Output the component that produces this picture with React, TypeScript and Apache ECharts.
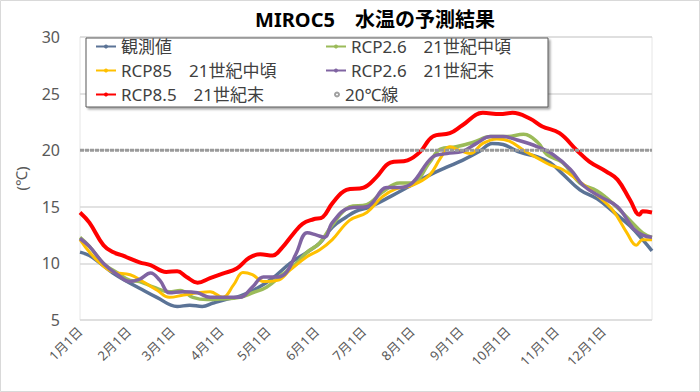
import React, { useEffect, useRef } from "react";
import * as echarts from "echarts";

const titleText = "MIROC5　水温の予測結果";
const yAxisName = "(℃)";
const monthLabels = ["1月1日", "2月1日", "3月1日", "4月1日", "5月1日", "6月1日", "7月1日", "8月1日", "9月1日", "10月1日", "11月1日", "12月1日"];
const monthStartDays = [0, 31, 59, 90, 120, 151, 181, 212, 243, 273, 304, 334];
const seriesNames = ["観測値", "RCP2.6　21世紀中頃", "RCP85　21世紀中頃", "RCP2.6　21世紀末", "RCP8.5　21世紀末", "20℃線"];

// [day of year, water temperature]
const observed: [number, number][] = [
  [0, 11.0], [6, 10.7], [13, 10.0], [21, 9.15], [30, 8.4], [38, 7.8], [49, 7.0], [62, 6.2], [70, 6.3], [78, 6.2],
  [85, 6.5], [94, 6.85], [102, 7.1], [113, 7.8], [123, 8.7], [134, 10.0], [145, 11.0], [153, 11.8], [161, 13.2],
  [170, 14.1], [176, 14.6], [185, 15.0], [198, 15.9], [210, 16.8], [223, 17.8], [234, 18.5], [244, 19.1], [255, 19.9],
  [263, 20.6], [270, 20.5], [281, 19.8], [292, 19.4], [300, 18.9], [308, 17.9], [319, 16.5], [330, 15.7], [340, 14.6],
  [351, 13.3], [359, 12.1], [365, 11.1]
];
const rcp26Mid: [number, number][] = [
  [0, 12.3], [6, 11.5], [15, 10.0], [24, 9.15], [32, 8.5], [38, 8.4], [47, 7.9], [57, 7.5], [64, 7.6], [72, 7.0],
  [81, 6.8], [89, 6.85], [102, 7.0], [110, 7.4], [119, 7.9], [129, 9.0], [138, 10.0], [145, 11.0], [153, 11.8],
  [161, 13.4], [172, 15.0], [183, 15.2], [193, 16.3], [204, 17.1], [212, 17.1], [223, 18.9], [230, 20.1], [240, 20.3],
  [251, 20.7], [262, 21.2], [272, 21.2], [283, 21.4], [292, 20.7], [298, 19.6], [308, 18.9], [319, 17.1], [330, 16.4],
  [340, 15.3], [351, 13.8], [359, 12.7], [365, 12.3]
];
const rcp85Mid: [number, number][] = [
  [0, 12.1], [6, 11.0], [13, 10.0], [21, 9.25], [32, 9.0], [40, 8.4], [49, 7.65], [57, 7.0], [66, 7.2], [75, 7.4],
  [83, 7.5], [91, 7.0], [98, 8.1], [104, 9.2], [110, 9.0], [117, 8.4], [126, 8.5], [134, 9.4], [145, 10.6], [153, 11.2],
  [161, 12.1], [172, 13.8], [183, 14.5], [193, 15.9], [202, 16.6], [212, 16.9], [223, 17.8], [230, 19.3], [236, 20.3],
  [242, 20.0], [249, 19.7], [257, 20.6], [266, 21.0], [274, 20.8], [283, 20.0], [292, 19.3], [300, 18.7], [308, 18.3],
  [319, 17.2], [330, 16.0], [340, 14.7], [349, 12.7], [355, 11.6], [359, 12.1], [365, 12.1]
];
const rcp26End: [number, number][] = [
  [0, 12.2], [6, 11.5], [15, 10.0], [24, 9.0], [32, 8.4], [38, 8.6], [45, 9.15], [51, 8.5], [57, 7.4], [66, 7.5],
  [75, 7.4], [83, 7.0], [94, 7.0], [102, 7.0], [110, 7.9], [117, 8.8], [126, 8.8], [132, 9.25], [138, 10.9], [145, 12.7],
  [151, 12.5], [156, 12.3], [161, 13.6], [172, 14.9], [183, 15.0], [196, 16.7], [204, 16.7], [212, 17.1], [225, 19.4],
  [234, 19.7], [244, 19.9], [253, 20.6], [262, 21.2], [270, 21.2], [279, 20.9], [292, 20.3], [302, 19.6], [313, 18.3],
  [321, 16.9], [332, 15.9], [343, 15.0], [353, 13.1], [359, 12.5], [365, 12.3]
];
const rcp85End: [number, number][] = [
  [0, 14.5], [6, 13.6], [15, 11.6], [21, 11.0], [27, 10.7], [38, 10.1], [45, 9.85], [55, 9.25], [62, 9.3], [68, 8.8],
  [75, 8.3], [83, 8.7], [91, 9.1], [100, 9.55], [108, 10.5], [115, 10.8], [123, 10.7], [129, 11.4], [136, 12.6],
  [142, 13.5], [149, 13.9], [155, 14.1], [161, 15.3], [170, 16.5], [181, 16.7], [189, 17.6], [198, 18.9], [209, 19.1],
  [217, 19.85], [225, 21.2], [236, 21.5], [244, 22.2], [257, 23.3], [268, 23.2], [276, 23.3], [287, 22.8], [295, 22.1],
  [306, 21.5], [317, 20.0], [325, 19.0], [336, 18.1], [343, 17.4], [351, 15.6], [357, 14.3], [359, 14.6], [365, 14.5]
];
const line20: [number, number][] = [[0, 20], [365, 20]];

const colors = ["#5B7396", "#9BBB59", "#FFC000", "#8064A2", "#FF0000", "#A6A6A6"];

const FONT = "'Noto Sans', 'Noto Sans CJK JP', sans-serif";

export default function App() {
  const ref = useRef<HTMLDivElement>(null);
  useEffect(() => {
    if (!ref.current) return;
    const chart = echarts.init(ref.current, null, { renderer: "svg" });
    const mkLine = (i: number, data: [number, number][], width: number) => ({
      name: seriesNames[i],
      type: "line",
      data,
      smooth: 0.4,
      symbol: "circle",
      symbolSize: 4,
      showSymbol: false,
      lineStyle: { color: colors[i], width },
      itemStyle: { color: colors[i] },
      z: 2 + i,
    });
    const legendText = { fontSize: 17, color: "#404040", fontFamily: FONT };
    chart.setOption({
      animation: false,
      backgroundColor: "#ffffff",
      textStyle: { fontFamily: FONT },
      title: {
        text: titleText,
        left: 370,
        textAlign: "center",
        top: 4,
        textStyle: { fontSize: 20, fontWeight: "bold", color: "#000000", fontFamily: FONT },
      },
      grid: { left: 80, right: 48, top: 37, bottom: 72, show: true, borderColor: "#e6e6e6", borderWidth: 1 },
      xAxis: {
        type: "value",
        min: 0,
        max: 365,
        axisLine: { show: false },
        axisTick: { show: false },
        splitLine: { show: false },
        axisLabel: {
          customValues: monthStartDays,
          rotate: 45,
          margin: 9,
          fontSize: 13,
          color: "#595959",
          formatter: (v: number) => {
            const idx = monthStartDays.indexOf(Math.round(v));
            return idx >= 0 ? monthLabels[idx] : "";
          },
        },
      },
      yAxis: {
        type: "value",
        min: 5,
        max: 30,
        interval: 5,
        name: yAxisName,
        nameLocation: "middle",
        nameRotate: 90,
        nameGap: 52,
        nameTextStyle: { fontSize: 15, color: "#595959" },
        axisLine: { show: false },
        axisTick: { show: false },
        axisLabel: { fontSize: 16, color: "#595959", margin: 20 },
        splitLine: { lineStyle: { color: "#d9d9d9", width: 1.5 } },
      },
      legend: [
        {
          orient: "vertical",
          left: 95,
          top: 38,
          padding: 0,
          itemWidth: 20,
          itemHeight: 5,
          itemGap: 7,
          textStyle: legendText,
          data: [seriesNames[0], seriesNames[2], seriesNames[4]],
          z: 6,
        },
        {
          orient: "vertical",
          left: 325,
          top: 38,
          padding: 0,
          itemWidth: 20,
          itemHeight: 5,
          itemGap: 7,
          textStyle: legendText,
          data: [seriesNames[1], seriesNames[3]],
          z: 6,
        },
        {
          orient: "vertical",
          left: 334,
          top: 86,
          padding: 0,
          itemWidth: 6,
          itemHeight: 4,
          itemGap: 7,
          textStyle: legendText,
          data: [{ name: seriesNames[5], icon: "circle" }],
          z: 6,
        },
      ],
      graphic: [
        {
          type: "rect",
          shape: { x: 0.5, y: 0.5, width: 699, height: 391 },
          style: { fill: "none", stroke: "#d9d9d9", lineWidth: 1 },
          silent: true,
          z: 0,
        },
        {
          type: "rect",
          shape: { x: 86, y: 38, width: 462, height: 69 },
          style: {
            fill: "#ffffff",
            stroke: "#595959",
            lineWidth: 1,
            shadowBlur: 2,
            shadowOffsetX: 2,
            shadowOffsetY: 2,
            shadowColor: "rgba(0,0,0,0.35)",
          },
          silent: true,
          z: 5,
        },
      ],
      series: [
        mkLine(0, observed, 3.5),
        mkLine(1, rcp26Mid, 3.5),
        mkLine(2, rcp85Mid, 3),
        mkLine(3, rcp26End, 3.5),
        mkLine(4, rcp85End, 4),
        {
          name: seriesNames[5],
          type: "line",
          data: line20,
          symbol: "circle",
          symbolSize: 3,
          showSymbol: false,
          lineStyle: { color: "#9a9a9a", width: 3, type: [4, 1] },
          itemStyle: { color: "#ffffff", borderColor: "#a0a0a0", borderWidth: 1 },
          z: 8,
        },
      ],
    });
    return () => chart.dispose();
  }, []);
  return <div ref={ref} style={{ width: 700, height: 392, position: "absolute", left: 0, top: 0 }} />;
}
